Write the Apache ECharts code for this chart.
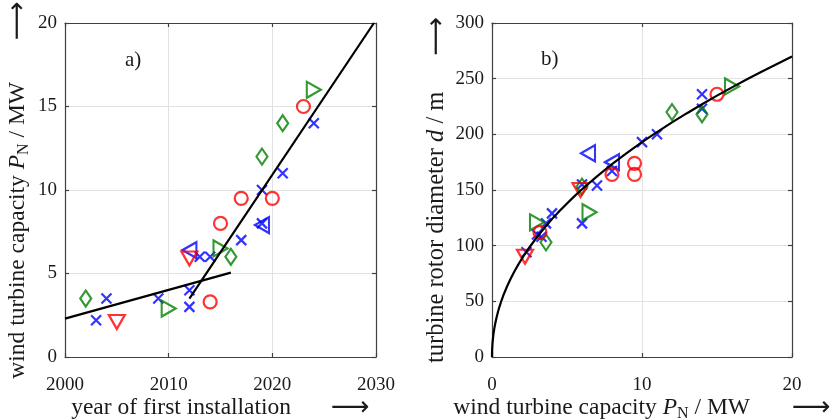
<!DOCTYPE html>
<html>
<head>
<meta charset="utf-8">
<script src="https://cdn.jsdelivr.net/npm/echarts@6/dist/echarts.min.js"></script>
<style>
  html, body { margin: 0; padding: 0; background: #ffffff; }
  #chart { width: 831px; height: 420px; }
</style>
</head>
<body>
<div id="chart"></div>
<script>
// ---- panel a): rated capacity vs. year of first installation ----
const yearCross   = [2003, 2004, 2009, 2012, 2012, 2013, 2014, 2017, 2019, 2019, 2021, 2024];
const capCrossA   = [2.2, 3.5, 3.5, 3.0, 4.0, 6.0, 6.0, 7.0, 8.0, 10.0, 11.0, 14.0];
const yearCircle  = [2014, 2015, 2017, 2020, 2023];
const capCircleA  = [3.3, 8.0, 9.5, 9.5, 15.0];
const yearDown    = [2005, 2012];
const capDownA    = [2.1, 5.9];
const yearDiamond = [2002, 2016, 2019, 2021];
const capDiamondA = [3.5, 6.0, 12.0, 14.0];
const yearRight   = [2010, 2015, 2024];
const capRightA   = [2.9, 6.5, 16.0];
const yearLeft    = [2012, 2019];
const capLeftA    = [6.4, 7.9];
// two linear trends (before / after the size jump)
const trendEarlyYear = [2000, 2016];
const trendEarlyCap  = [2.3, 5.05];
const trendLateYear  = [2012, 2029.8];
const trendLateCap   = [3.5, 20];

// ---- panel b): rotor diameter vs. rated capacity ----
const capCrossB    = [2.3, 3.0, 3.3, 3.6, 4.0, 6.0, 6.0, 7.0, 8.0, 10.0, 11.0, 14.0, 14.0];
const diamCross    = [94, 110, 108, 120, 129, 120, 155, 154, 167, 193, 200, 236, 223];
const capCircleB   = [3.2, 8.0, 9.5, 9.5, 15.0];
const diamCircle   = [112, 164, 174, 164, 236];
const capDownB     = [2.2, 5.9];
const diamDown     = [90, 150];
const capDiamondB  = [3.6, 6.0, 12.0, 14.0];
const diamDiamond  = [103, 153, 220, 218];
const capRightB    = [3.0, 6.5, 16.0];
const diamRight    = [121, 130, 243];
const capLeftB     = [6.4, 8.0];
const diamLeft     = [183, 175];
// power-law fit curve, sampled along its length
const fitCap  = [0, 0.002, 0.005, 0.01, 0.02, 0.03, 0.05, 0.08, 0.11, 0.15, 0.22, 0.3, 0.4, 0.5, 0.6, 0.75,
                 1, 1.25, 1.5, 1.75, 2, 2.5, 3, 3.5, 4, 4.5, 5, 5.5, 6, 7, 8, 9, 10, 11, 12, 13, 14, 15, 16, 17, 18, 19, 20];
const fitDiam = [0, 3.1, 4.9, 6.8, 9.5, 11.6, 14.9, 18.6, 21.8, 25.3, 30.4, 35.3, 40.6, 45.3, 49.4, 55.1,
                 63.3, 70.5, 77, 83, 88.5, 98.6, 107.7, 116.1, 123.9, 131.1, 137.9, 144.5, 150.7, 162.3, 173.2, 183.3,
                 193, 202, 210.7, 219, 227, 234.8, 242.2, 249.4, 256.4, 263.2, 269.9];

// ---- axis ticks ----
const yearTicks = [2000, 2010, 2020, 2030];
const capTicksA = [0, 5, 10, 15, 20];
const capTicksB = [0, 10, 20];
const diamTicks = [0, 50, 100, 150, 200, 250, 300];

const SERIF = "'Liberation Serif', 'DejaVu Serif', serif";
const INK = '#1a1a1a';
const BLUE = '#0000ff', RED = '#ff0000', GREEN = '#008000';
const TITLE_SIZE = 23.5;

const zip = (xs, ys) => xs.map((x, i) => [x, ys[i]]);

const nameRich = {
  t: { fontFamily: SERIF, fontSize: TITLE_SIZE, color: INK, lineHeight: 28, verticalAlign: 'middle' },
  i: { fontFamily: SERIF, fontSize: TITLE_SIZE, fontStyle: 'italic', color: INK, lineHeight: 28, verticalAlign: 'middle' },
  T: { fontFamily: SERIF, fontSize: 24.5, color: INK, lineHeight: 28, verticalAlign: 'middle' },
  I: { fontFamily: SERIF, fontSize: 24.5, fontStyle: 'italic', color: INK, lineHeight: 28, verticalAlign: 'middle' },
  s: { fontFamily: SERIF, fontSize: 16, color: INK, lineHeight: 16, verticalAlign: 'bottom' },
  g: { width: 40 },
  g2: { width: 42 },
  g3: { width: 36 },
  a: { fontFamily: "'DejaVu Sans', sans-serif", fontSize: 27, color: INK, lineHeight: 28, verticalAlign: 'middle' }
};

function axis(grid, pos, ticks, opts) {
  const isMain = pos === 'bottom' || pos === 'left';
  return Object.assign({
    type: 'value',
    gridIndex: grid,
    position: pos,
    min: ticks[0],
    max: ticks[ticks.length - 1],
    interval: ticks[1] - ticks[0],
    axisLine: { show: true, onZero: false, lineStyle: { color: '#404040', width: 1.2 } },
    axisTick: { show: true, inside: true, length: 4, lineStyle: { color: '#404040', width: 1.2 } },
    axisLabel: {
      show: isMain,
      fontFamily: SERIF,
      fontSize: 19,
      color: INK,
      margin: (pos === 'bottom') ? 19 : 8,
      formatter: v => String(v)
    },
    splitLine: { show: isMain, lineStyle: { color: '#e2e2e2', width: 1 } },
    nameMoveOverlap: false,
    nameTextStyle: { rich: nameRich }
  }, opts || {});
}

const crossPath = 'path://M0,0L10,10M10,0L0,10';

function scatter(name, data, xi, yi, color, symbol, size, rotate) {
  return {
    name: name,
    type: 'scatter',
    xAxisIndex: xi,
    yAxisIndex: yi,
    data: data,
    symbol: symbol,
    symbolSize: size,
    symbolRotate: rotate || 0,
    itemStyle: { color: 'none', borderColor: color, borderWidth: 2.2 },
    emphasis: { disabled: true },
    silent: true
  };
}

function markersFor(xi, yi, sets) {
  return [
    scatter('cross', sets.cross, xi, yi, BLUE, crossPath, 10),
    scatter('diamond', sets.diamond, xi, yi, GREEN, 'diamond', [11, 16]),
    scatter('right', sets.right, xi, yi, GREEN, 'triangle', [16, 14], -90),
    scatter('left', sets.left, xi, yi, BLUE, 'triangle', [16, 14], 90),
    scatter('circle', sets.circle, xi, yi, RED, 'circle', 13),
    scatter('down', sets.down, xi, yi, RED, 'triangle', [16, 14], 180)
  ];
}

function line(data, xi, yi) {
  return {
    type: 'line',
    xAxisIndex: xi,
    yAxisIndex: yi,
    data: data,
    showSymbol: false,
    symbol: 'none',
    smooth: false,
    lineStyle: { color: '#000000', width: 2.2 },
    z: 5,
    silent: true
  };
}

const chart = echarts.init(document.getElementById('chart'), null, { renderer: 'canvas' });

chart.setOption({
  animation: false,
  backgroundColor: '#ffffff',
  grid: [
    { left: 65, top: 23, width: 311, height: 334, containLabel: false, outerBoundsMode: 'none' },
    { left: 492, top: 23, width: 300, height: 334, containLabel: false, outerBoundsMode: 'none' }
  ],
  xAxis: [
    axis(0, 'bottom', yearTicks, {
      name: '{t|year of first installation}{g| }{a|⟶}',
      nameLocation: 'middle',
      nameGap: 37
    }),
    axis(1, 'bottom', capTicksB, {
      name: '{t|wind turbine capacity }{i|P}{s|N}{t| / MW}{g2| }{a|⟶}',
      nameLocation: 'middle',
      nameGap: 37
    }),
    axis(0, 'top', yearTicks),
    axis(1, 'top', capTicksB)
  ],
  yAxis: [
    axis(0, 'left', capTicksA, {
      name: '{t|wind turbine capacity }{i|P}{s|N}{t| / MW}{g2| }{a|⟶}',
      nameLocation: 'middle',
      nameGap: 33
    }),
    axis(1, 'left', diamTicks, {
      name: '{T|turbine rotor diameter }{I|d}{T| / m}{g3| }{a|⟶}',
      nameLocation: 'middle',
      nameGap: 41
    }),
    axis(0, 'right', capTicksA),
    axis(1, 'right', diamTicks)
  ],
  graphic: [
    { type: 'text', left: 125, top: 50, style: { text: 'a)', font: '21px ' + SERIF, fill: INK } },
    { type: 'text', left: 541, top: 49, style: { text: 'b)', font: '21px ' + SERIF, fill: INK } }
  ],
  series: [
    ...markersFor(0, 0, {
      cross: zip(yearCross, capCrossA),
      diamond: zip(yearDiamond, capDiamondA),
      right: zip(yearRight, capRightA),
      left: zip(yearLeft, capLeftA),
      circle: zip(yearCircle, capCircleA),
      down: zip(yearDown, capDownA)
    }),
    line(zip(trendEarlyYear, trendEarlyCap), 0, 0),
    line(zip(trendLateYear, trendLateCap), 0, 0),
    ...markersFor(1, 1, {
      cross: zip(capCrossB, diamCross),
      diamond: zip(capDiamondB, diamDiamond),
      right: zip(capRightB, diamRight),
      left: zip(capLeftB, diamLeft),
      circle: zip(capCircleB, diamCircle),
      down: zip(capDownB, diamDown)
    }),
    line(zip(fitCap, fitDiam), 1, 1)
  ]
});
</script>
</body>
</html>
